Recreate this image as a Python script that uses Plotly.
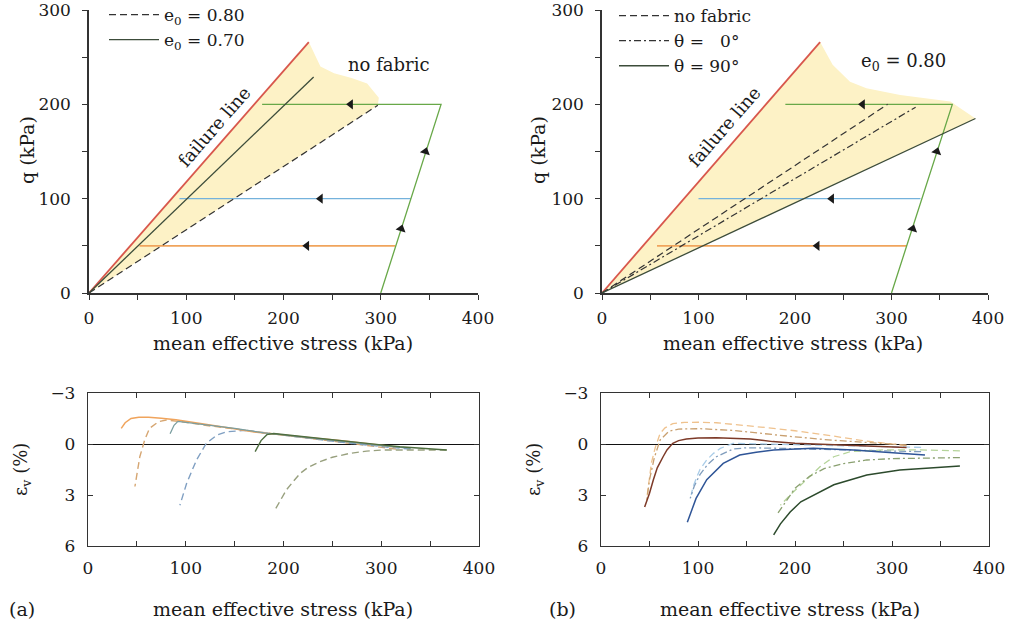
import plotly.graph_objects as go

W, H = 1009, 624


def fx(px):
    return px / W


def fy(py):
    return 1 - py / H


FONT = "DejaVu Serif"

# ---------------- data: top panels (stress paths, q vs p') ----------------
fail_p = [0, 226]
fail_q = [0, 266]

# (a)
a_e080_p = [0, 297]
a_e080_q = [0, 199]
a_e070_p = [0, 231]
a_e070_q = [0, 229]
a_zone_p = [0, 226, 238, 252, 270, 286, 298, 297, 0]
a_zone_q = [0, 266, 240, 233, 228, 222, 207, 199, 0]
a_green_p = [300, 362, 178]
a_green_q = [0, 200, 200]
a_blue_p = [331, 93]
a_blue_q = [100, 100]
a_orange_p = [315, 52]
a_orange_q = [50, 50]
a_arrowL_p = [269, 238, 224]
a_arrowL_q = [200, 100, 50]
a_arrowU_p = [321, 346]
a_arrowU_q = [68, 150]

# (b)
b_nofab_p = [0, 296]
b_nofab_q = [0, 200]
b_th0_p = [0, 325]
b_th0_q = [0, 197]
b_th90_p = [0, 387]
b_th90_q = [0, 185]
b_zone_p = [0, 226, 239, 257, 274, 309, 361, 387, 0]
b_zone_q = [0, 266, 242, 224, 217, 210, 203, 185, 0]
b_green_p = [300, 363, 190]
b_green_q = [0, 200, 200]
b_blue_p = [330, 100]
b_blue_q = [100, 100]
b_orange_p = [316, 57]
b_orange_q = [50, 50]
b_arrowL_p = [270, 238, 223]
b_arrowL_q = [200, 100, 50]
b_arrowU_p = [322, 347]
b_arrowU_q = [68, 150]

# ---------------- data: bottom panels (volumetric strain vs p') ----------------
# (a) e0 = 0.70 (solid)
a_ev_or_s_p = [315, 290, 260, 230, 200, 170, 140, 110, 90, 75, 62, 52, 44, 38, 34]
a_ev_or_s_e = [0.18, 0.0, -0.19, -0.36, -0.52, -0.7, -0.98, -1.25, -1.42, -1.52, -1.58, -1.58, -1.5, -1.25, -0.92]
a_ev_bl_s_p = [330, 300, 260, 220, 180, 150, 120, 100, 92, 88, 84]
a_ev_bl_s_e = [0.25, 0.1, -0.15, -0.38, -0.65, -0.92, -1.15, -1.3, -1.33, -1.1, -0.6]
a_ev_gr_s_p = [367, 340, 319, 300, 285, 260, 240, 220, 200, 190, 183, 177, 171]
a_ev_gr_s_e = [0.35, 0.25, 0.16, 0.05, -0.04, -0.18, -0.3, -0.42, -0.56, -0.62, -0.55, -0.2, 0.45]
# (a) e0 = 0.80 (dashed)
a_ev_or_d_p = [315, 280, 240, 200, 160, 120, 100, 80, 72, 63, 58, 53, 48]
a_ev_or_d_e = [0.3, 0.05, -0.25, -0.52, -0.82, -1.1, -1.28, -1.41, -1.31, -0.92, -0.24, 0.75, 2.5]
a_ev_bl_d_p = [330, 300, 260, 220, 180, 160, 142, 132, 121, 111, 101, 94]
a_ev_bl_d_e = [0.3, 0.15, -0.1, -0.38, -0.65, -0.8, -0.72, -0.53, -0.04, 0.94, 2.3, 3.6]
a_ev_gr_d_p = [367, 330, 302, 285, 268, 250, 237, 225, 217, 210, 203, 197, 191]
a_ev_gr_d_e = [0.35, 0.33, 0.35, 0.42, 0.55, 0.78, 1.04, 1.38, 1.73, 2.2, 2.7, 3.3, 3.9]

# (b) orange (q = 50)
b_ev_or_nf_p = [315, 270, 239, 200, 171, 140, 119, 100, 86, 74, 66, 61, 56, 52, 47]
b_ev_or_nf_e = [0.1, -0.2, -0.47, -0.78, -0.96, -1.15, -1.25, -1.28, -1.27, -1.2, -0.95, -0.63, 0.2, 1.1, 3.3]
b_ev_or_t0_p = [315, 270, 239, 200, 170, 136, 102, 80, 70, 61, 55, 50, 47]
b_ev_or_t0_e = [0.06, -0.1, -0.22, -0.42, -0.58, -0.8, -0.9, -0.88, -0.75, -0.24, 0.8, 2.1, 3.4]
b_ev_or_t90_p = [315, 280, 240, 200, 177, 154, 119, 100, 88, 80, 74, 68, 64, 58, 54, 50, 45]
b_ev_or_t90_e = [0.2, 0.12, 0.05, -0.05, -0.14, -0.3, -0.37, -0.36, -0.3, -0.2, -0.04, 0.35, 0.75, 1.4, 2.1, 2.9, 3.7]
# (b) blue (q = 100)
b_ev_bl_nf_p = [330, 290, 250, 210, 170, 136, 123, 116, 109, 102, 99, 95, 93]
b_ev_bl_nf_e = [0.2, 0.15, 0.1, 0.05, 0.0, -0.04, 0.26, 0.55, 0.94, 1.5, 1.92, 2.5, 3.0]
b_ev_bl_t0_p = [330, 280, 230, 180, 150, 136, 119, 110, 102, 96, 92]
b_ev_bl_t0_e = [0.45, 0.4, 0.32, 0.25, 0.22, 0.3, 0.75, 1.2, 1.8, 2.5, 3.2]
b_ev_bl_t90_p = [334, 300, 260, 219, 178, 160, 143, 126, 109, 98, 89]
b_ev_bl_t90_e = [0.65, 0.5, 0.35, 0.25, 0.35, 0.48, 0.65, 1.14, 2.1, 3.2, 4.6]
# (b) green (q = 200)
b_ev_gr_nf_p = [370, 330, 290, 257, 240, 226, 210, 195, 185]
b_ev_gr_nf_e = [0.4, 0.35, 0.35, 0.45, 0.75, 1.33, 2.2, 3.0, 3.6]
b_ev_gr_t0_p = [370, 330, 300, 274, 250, 230, 215, 200, 190, 182]
b_ev_gr_t0_e = [0.8, 0.82, 0.86, 0.94, 1.15, 1.45, 1.9, 2.6, 3.4, 4.1]
b_ev_gr_t90_p = [370, 340, 308, 274, 240, 206, 195, 185, 178]
b_ev_gr_t90_e = [1.3, 1.4, 1.53, 1.82, 2.4, 3.4, 4.0, 4.7, 5.35]

# tick values
p_ticks = [0, 100, 200, 300, 400]
q_ticks = [0, 100, 200, 300]
ev_ticks = [-3, 0, 3, 6]

# ---------------- styles ----------------
RED = "#d8574c"
ORANGE = "#f0a45c"
BLUE = "#74b2dc"
GREEN = "#68a848"
DARK = "#333333"
DARKG = "#3c4c3a"
ZONE = "#fdf2c6"
DASH = "7px,4px"
DASHDOT = "7px,3px,2px,3px"

fig = go.Figure()


def line(x, y, xa, ya, color, width=1.3, dash="solid", name=None, legend=None, show=False):
    fig.add_trace(go.Scatter(
        x=x, y=y, xaxis=xa, yaxis=ya, mode="lines",
        line=dict(color=color, width=width, dash=dash),
        name=name, showlegend=show, legend=legend, hoverinfo="skip"))


def arrows(x, y, xa, ya, symbol, angle=0):
    fig.add_trace(go.Scatter(
        x=x, y=y, xaxis=xa, yaxis=ya, mode="markers",
        marker=dict(symbol=symbol, size=9, color="#1a1a1a", angle=angle),
        showlegend=False, hoverinfo="skip"))


def zone(x, y, xa, ya):
    fig.add_trace(go.Scatter(
        x=x, y=y, xaxis=xa, yaxis=ya, mode="lines", fill="toself",
        fillcolor=ZONE, line=dict(width=0), showlegend=False, hoverinfo="skip"))


# ---- (a) top ----
zone(a_zone_p, a_zone_q, "x", "y")
line(a_orange_p, a_orange_q, "x", "y", ORANGE, 1.6)
line(a_blue_p, a_blue_q, "x", "y", BLUE, 1.3)
line(a_green_p, a_green_q, "x", "y", GREEN, 1.3)
line(fail_p, fail_q, "x", "y", RED, 1.8)
line(a_e080_p, a_e080_q, "x", "y", DARK, 1.2, DASH, "e<sub>0</sub> = 0.80", "legend", True)
line(a_e070_p, a_e070_q, "x", "y", DARKG, 1.3, "solid", "e<sub>0</sub> = 0.70", "legend", True)
arrows(a_arrowL_p, a_arrowL_q, "x", "y", "triangle-left")
arrows(a_arrowU_p, a_arrowU_q, "x", "y", "triangle-up", 17)

# ---- (b) top ----
zone(b_zone_p, b_zone_q, "x2", "y2")
line(b_orange_p, b_orange_q, "x2", "y2", ORANGE, 1.6)
line(b_blue_p, b_blue_q, "x2", "y2", BLUE, 1.3)
line(b_green_p, b_green_q, "x2", "y2", GREEN, 1.3)
line(fail_p, fail_q, "x2", "y2", RED, 1.8)
line(b_nofab_p, b_nofab_q, "x2", "y2", DARK, 1.2, DASH, "no fabric", "legend2", True)
line(b_th0_p, b_th0_q, "x2", "y2", DARK, 1.2, DASHDOT, "\u03b8 = \u00a0\u00a00\u00b0", "legend2", True)
line(b_th90_p, b_th90_q, "x2", "y2", DARKG, 1.3, "solid", "\u03b8 = 90\u00b0", "legend2", True)
arrows(b_arrowL_p, b_arrowL_q, "x2", "y2", "triangle-left")
arrows(b_arrowU_p, b_arrowU_q, "x2", "y2", "triangle-up", 17)

# ---- (a) bottom ----
line(a_ev_or_d_p, a_ev_or_d_e, "x3", "y3", "#d6a672", 1.4, DASH)
line(a_ev_bl_d_p, a_ev_bl_d_e, "x3", "y3", "#7f9fc2", 1.4, DASH)
line(a_ev_gr_d_p, a_ev_gr_d_e, "x3", "y3", "#98a07e", 1.4, DASH)
line(a_ev_or_s_p, a_ev_or_s_e, "x3", "y3", ORANGE, 1.5)
line(a_ev_bl_s_p, a_ev_bl_s_e, "x3", "y3", "#7a9ea0", 1.3)
line(a_ev_gr_s_p, a_ev_gr_s_e, "x3", "y3", "#4f6e40", 1.4)

# ---- (b) bottom ----
line(b_ev_or_nf_p, b_ev_or_nf_e, "x4", "y4", "#efc28e", 1.3, DASH)
line(b_ev_or_t0_p, b_ev_or_t0_e, "x4", "y4", "#c9a070", 1.3, DASHDOT)
line(b_ev_bl_nf_p, b_ev_bl_nf_e, "x4", "y4", "#a9cce8", 1.3, DASH)
line(b_ev_bl_t0_p, b_ev_bl_t0_e, "x4", "y4", "#7f9cbc", 1.3, DASHDOT)
line(b_ev_gr_nf_p, b_ev_gr_nf_e, "x4", "y4", "#b5d49a", 1.3, DASH)
line(b_ev_gr_t0_p, b_ev_gr_t0_e, "x4", "y4", "#8aa070", 1.3, DASHDOT)
line(b_ev_or_t90_p, b_ev_or_t90_e, "x4", "y4", "#7d3a28", 1.5)
line(b_ev_bl_t90_p, b_ev_bl_t90_e, "x4", "y4", "#2f5597", 1.5)
line(b_ev_gr_t90_p, b_ev_gr_t90_e, "x4", "y4", "#2c4a2c", 1.5)

# ---------------- axes ----------------
tickfont = dict(family=FONT, size=17, color="#1a1a1a")
common = dict(showline=True, linecolor="#333", tickcolor="#333", showgrid=False,
              automargin=False, tickfont=tickfont, ticklen=5, ticklabeloverflow="allow")

top_x = dict(common, range=[0, 400], tickvals=p_ticks, linewidth=1.5, ticks="outside",
             zeroline=False, ticklabelstandoff=4,
             minor=dict(dtick=50, tick0=0, ticks="outside", ticklen=5, tickcolor="#333",
                        showgrid=False))
top_y = dict(common, range=[0, 300], tickvals=q_ticks, linewidth=1.5, ticks="outside",
             zeroline=False, ticklabelstandoff=8,
             minor=dict(dtick=50, tick0=0, ticks="outside", ticklen=5, tickcolor="#333",
                        showgrid=False))
bot_x = dict(common, range=[0, 400], tickvals=p_ticks, linewidth=1.3, ticks="inside",
             mirror="ticks", zeroline=False, ticklabelstandoff=6,
             minor=dict(dtick=50, tick0=0, ticks="inside", ticklen=5, tickcolor="#333",
                        showgrid=False))
bot_y = dict(common, range=[6, -3], tickvals=ev_ticks, linewidth=1.3, ticks="inside",
             mirror="ticks", zeroline=True, zerolinecolor="#111", zerolinewidth=1.4,
             ticklabelstandoff=8)

TOP_Y0, TOP_Y1 = 293, 10

fig.update_layout(
    width=W, height=H,
    margin=dict(l=0, r=0, t=0, b=0, autoexpand=False),
    paper_bgcolor="white", plot_bgcolor="white",
    font=dict(family=FONT, size=17, color="#1a1a1a"),
    xaxis=dict(top_x, domain=[fx(89), fx(478)], anchor="y"),
    yaxis=dict(top_y, domain=[fy(TOP_Y0), fy(TOP_Y1)], anchor="x"),
    xaxis2=dict(top_x, domain=[fx(602), fx(988)], anchor="y2"),
    yaxis2=dict(top_y, domain=[fy(TOP_Y0), fy(TOP_Y1)], anchor="x2"),
    xaxis3=dict(bot_x, domain=[fx(88), fx(479)], anchor="y3"),
    yaxis3=dict(bot_y, domain=[fy(546), fy(393)], anchor="x3"),
    xaxis4=dict(bot_x, domain=[fx(601), fx(989)], anchor="y4"),
    yaxis4=dict(bot_y, domain=[fy(546), fy(393)], anchor="x4"),
    legend=dict(x=fx(104), y=fy(-3), xanchor="left", yanchor="top",
                bgcolor="rgba(0,0,0,0)", font=dict(family=FONT, size=17),
                itemwidth=50, tracegroupgap=0),
    legend2=dict(x=fx(614), y=fy(-2), xanchor="left", yanchor="top",
                 bgcolor="rgba(0,0,0,0)", font=dict(family=FONT, size=17),
                 itemwidth=50, tracegroupgap=0),
    showlegend=True,
)

ann = []


def label(text, x, y, size=18, angle=0, xref="paper", yref="paper"):
    ann.append(dict(text=text, x=x, y=y, xref=xref, yref=yref, showarrow=False,
                    textangle=angle, font=dict(family=FONT, size=size, color="#1a1a1a"),
                    xanchor="center", yanchor="middle"))


XT = "mean effective stress (kPa)"
label(XT, fx(283), fy(343), 19)
label(XT, fx(793), fy(343), 19)
label(XT, fx(283), fy(609), 19)
label(XT, fx(790), fy(609), 19)
label("q (kPa)", fx(27), fy(150), 19, -90)
label("q (kPa)", fx(538), fy(150), 19, -90)
label("\u03b5<sub>v</sub> (%)", fx(22), fy(470), 18, -90)
label("\u03b5<sub>v</sub> (%)", fx(535), fy(470), 18, -90)
label("(a)", fx(22), fy(609), 19)
label("(b)", fx(562), fy(609), 19)
label("failure line", 129, 176, 18, -49, "x", "y")
label("failure line", 127, 176, 18, -49, "x2", "y2")
label("no fabric", 308, 242, 18, 0, "x", "y")
label("e<sub>0</sub> = 0.80", 312, 245, 18, 0, "x2", "y2")
fig.update_layout(annotations=ann)

fig.write_html(
    "out.html",
    config={"displayModeBar": False},
    post_script="document.body.style.margin='0px';document.body.style.overflow='hidden';",
)
